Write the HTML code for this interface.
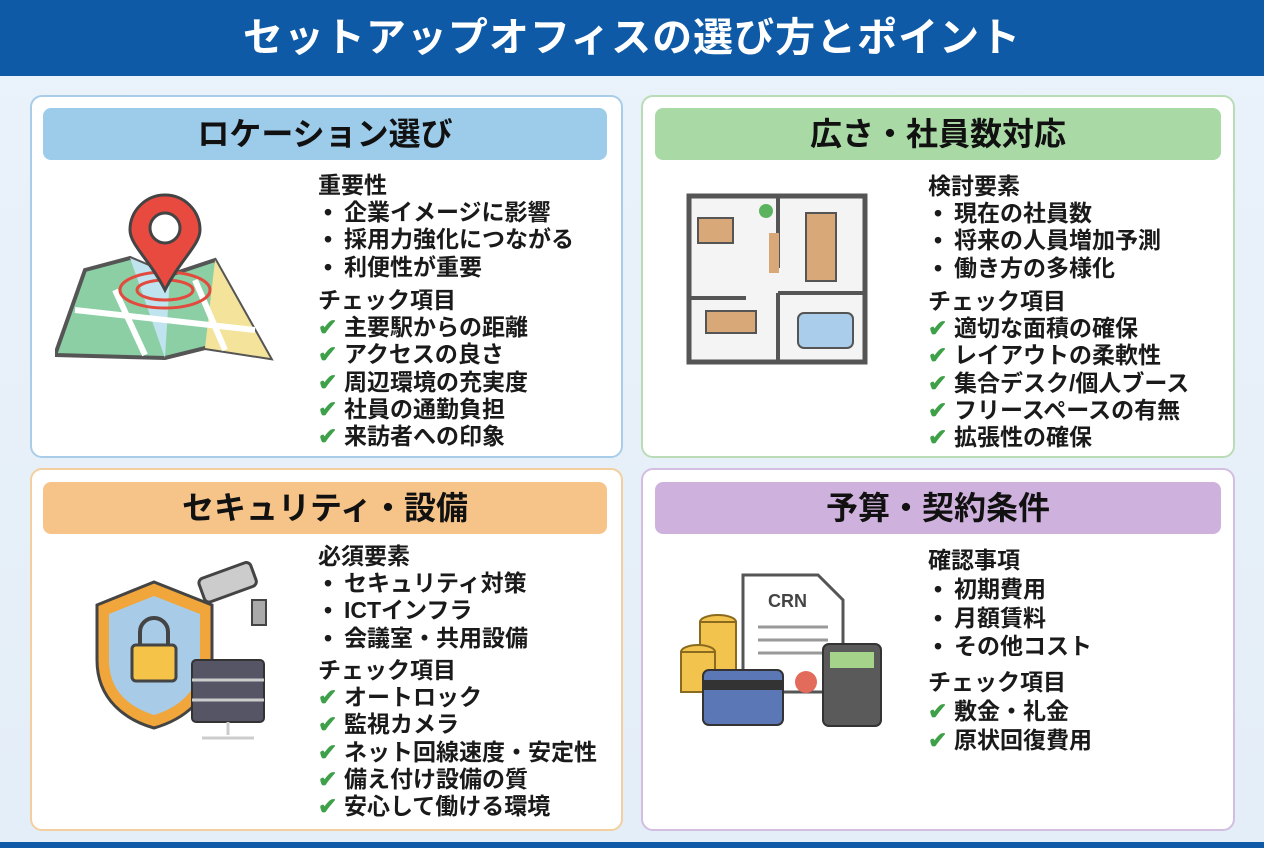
<!DOCTYPE html>
<html><head><meta charset="utf-8">
<style>
*{margin:0;padding:0;box-sizing:border-box}
body{width:1264px;height:848px;overflow:hidden;background:linear-gradient(180deg,#eaf2fa,#e4eef8);font-family:"Liberation Sans","Noto Sans CJK JP",sans-serif;position:relative}
.hdr{position:absolute;left:0;top:0;width:1264px;height:76px;background:#0f5aa6;color:#fff;font-weight:700;font-size:40px;text-align:center;line-height:76px;letter-spacing:1px}
.foot{position:absolute;left:0;top:842px;width:1264px;height:6px;background:#0f5aa6}
.panel{position:absolute;background:#fff;border:2px solid;border-radius:12px}
.pill{position:absolute;height:52px;border-radius:8px;text-align:center;line-height:52px;font-size:32px;font-weight:700;color:#111}
.t{position:absolute;font-size:23px;font-weight:700;color:#1a1a1a;line-height:27.2px;white-space:nowrap}
.ck{color:#3fa04a;margin-right:4px;display:inline-block;width:22px}
.b{padding-left:6px}
.b i{font-style:normal;display:inline-block;width:20px}
</style></head><body>
<div class="hdr">セットアップオフィスの選び方とポイント</div>

<div class="panel" style="left:30px;top:95px;width:593px;height:363px;border-color:#a9cde9"></div>
<div class="panel" style="left:641px;top:95px;width:594px;height:363px;border-color:#b9dcb6"></div>
<div class="panel" style="left:30px;top:468px;width:593px;height:363px;border-color:#f3cf9f"></div>
<div class="panel" style="left:641px;top:468px;width:594px;height:363px;border-color:#d3bde0"></div>

<div class="pill" style="left:43px;top:108px;width:564px;background:#9dcbea">ロケーション選び</div>
<div class="pill" style="left:655px;top:108px;width:566px;background:#a9d9a5">広さ・社員数対応</div>
<div class="pill" style="left:43px;top:482px;width:564px;background:#f6c488">セキュリティ・設備</div>
<div class="pill" style="left:655px;top:482px;width:566px;background:#ceb1dc">予算・契約条件</div>

<div class="t" style="left:318px;top:172px">重要性<br><span class="b"><i>•</i>企業イメージに影響</span><br><span class="b"><i>•</i>採用力強化につながる</span><br><span class="b"><i>•</i>利便性が重要</span></div>
<div class="t" style="left:318px;top:287px">チェック項目<br><span class="ck">✔</span>主要駅からの距離<br><span class="ck">✔</span>アクセスの良さ<br><span class="ck">✔</span>周辺環境の充実度<br><span class="ck">✔</span>社員の通勤負担<br><span class="ck">✔</span>来訪者への印象</div>

<div class="t" style="left:928px;top:173px">検討要素<br><span class="b"><i>•</i>現在の社員数</span><br><span class="b"><i>•</i>将来の人員増加予測</span><br><span class="b"><i>•</i>働き方の多様化</span></div>
<div class="t" style="left:928px;top:288px">チェック項目<br><span class="ck">✔</span>適切な面積の確保<br><span class="ck">✔</span>レイアウトの柔軟性<br><span class="ck">✔</span>集合デスク/個人ブース<br><span class="ck">✔</span>フリースペースの有無<br><span class="ck">✔</span>拡張性の確保</div>

<div class="t" style="left:318px;top:543px">必須要素<br><span class="b"><i>•</i>セキュリティ対策</span><br><span class="b"><i>•</i>ICTインフラ</span><br><span class="b"><i>•</i>会議室・共用設備</span></div>
<div class="t" style="left:318px;top:657px">チェック項目<br><span class="ck">✔</span>オートロック<br><span class="ck">✔</span>監視カメラ<br><span class="ck">✔</span>ネット回線速度・安定性<br><span class="ck">✔</span>備え付け設備の質<br><span class="ck">✔</span>安心して働ける環境</div>

<div class="t" style="left:928px;top:546px;line-height:28.8px">確認事項<br><span class="b"><i>•</i>初期費用</span><br><span class="b"><i>•</i>月額賃料</span><br><span class="b"><i>•</i>その他コスト</span></div>
<div class="t" style="left:928px;top:668px;line-height:29px">チェック項目<br><span class="ck">✔</span>敷金・礼金<br><span class="ck">✔</span>原状回復費用</div>

<svg style="position:absolute;left:55px;top:190px" width="220" height="175" viewBox="0 0 220 175">
<polygon points="30,80 75,68 115,85 160,70 215,168 150,158 110,168 0,165" fill="#8ccfa5" stroke="#555" stroke-width="4"/>
<polygon points="75,68 110,168 115,85" fill="#bfe3ef"/>
<polygon points="160,70 215,168 150,158" fill="#f4e39a"/>
<path d="M20,120 L200,140 M60,100 L90,165 M140,90 L170,160" stroke="#fff" stroke-width="6"/>
<ellipse cx="110" cy="100" rx="45" ry="18" fill="none" stroke="#e34a3e" stroke-width="3"/>
<ellipse cx="110" cy="100" rx="28" ry="10" fill="none" stroke="#e34a3e" stroke-width="3"/>
<path d="M110,100 C95,70 75,55 75,40 A35,35 0 1 1 145,40 C145,55 125,70 110,100Z" fill="#e84a3f" stroke="#444" stroke-width="3"/>
<circle cx="110" cy="38" r="15" fill="#fff" stroke="#444" stroke-width="3"/>
</svg>

<svg style="position:absolute;left:686px;top:193px" width="182" height="172" viewBox="0 0 182 172">
<rect x="3" y="3" width="176" height="166" fill="#f4f4f4" stroke="#555" stroke-width="5"/>
<path d="M92,3 V75 M92,100 V169 M92,100 H179 M3,105 H60" stroke="#555" stroke-width="4"/>
<rect x="12" y="25" width="35" height="25" fill="#d9a878" stroke="#555" stroke-width="2"/>
<rect x="120" y="20" width="30" height="68" fill="#d9a878" stroke="#555" stroke-width="2"/>
<rect x="83" y="40" width="10" height="40" fill="#d9a878"/>
<rect x="20" y="118" width="50" height="22" fill="#d9a878" stroke="#555" stroke-width="2"/>
<rect x="112" y="120" width="55" height="35" rx="6" fill="#a9cdea" stroke="#555" stroke-width="2"/>
<circle cx="80" cy="18" r="7" fill="#5bb35f"/>
</svg>

<svg style="position:absolute;left:92px;top:560px" width="180" height="185" viewBox="0 0 180 185">
<path d="M62,22 L120,45 V100 C120,140 90,160 62,168 C34,160 5,140 5,100 V45Z" fill="#f0a63b" stroke="#444" stroke-width="3"/>
<path d="M62,36 L108,54 V100 C108,132 85,148 62,155 C39,148 17,132 17,100 V54Z" fill="#a8cbe8"/>
<rect x="40" y="85" width="44" height="36" rx="4" fill="#f5c347" stroke="#444" stroke-width="3"/>
<path d="M48,85 V72 A14,14 0 0 1 76,72 V85" fill="none" stroke="#444" stroke-width="4"/>
<rect x="100" y="100" width="72" height="62" rx="4" fill="#556" stroke="#333" stroke-width="2"/>
<path d="M100,120 H172 M100,140 H172 M136,162 V175 M110,178 H162" stroke="#ccc" stroke-width="3"/>
<rect x="108" y="10" width="55" height="25" rx="5" transform="rotate(-20 135 22)" fill="#ccc" stroke="#444" stroke-width="3"/>
<rect x="160" y="40" width="14" height="25" fill="#aaa" stroke="#444" stroke-width="2"/>
</svg>

<svg style="position:absolute;left:678px;top:572px" width="210" height="160" viewBox="0 0 210 160">
<path d="M65,3 H140 L165,28 V120 H65Z" fill="#fff" stroke="#555" stroke-width="3"/>
<text x="90" y="35" font-family="Liberation Sans" font-weight="700" font-size="18" fill="#444">CRN</text>
<path d="M80,55 H150 M80,68 H150 M80,81 H150" stroke="#999" stroke-width="3"/>
<circle cx="128" cy="110" r="11" fill="#e36b5c"/>
<g fill="#f2c34d" stroke="#8a6a1e" stroke-width="2">
<ellipse cx="40" cy="50" rx="18" ry="7"/><rect x="22" y="50" width="36" height="50"/>
<ellipse cx="20" cy="80" rx="17" ry="7"/><rect x="3" y="80" width="34" height="40"/></g>
<rect x="25" y="98" width="80" height="55" rx="6" fill="#5b77b5" stroke="#333" stroke-width="2"/>
<rect x="25" y="108" width="80" height="10" fill="#333"/>
<rect x="145" y="72" width="58" height="82" rx="6" fill="#5a5a5a" stroke="#333" stroke-width="2"/>
<rect x="152" y="80" width="44" height="16" fill="#a6d38a"/>
</svg>

<div class="foot"></div>
</body></html>
